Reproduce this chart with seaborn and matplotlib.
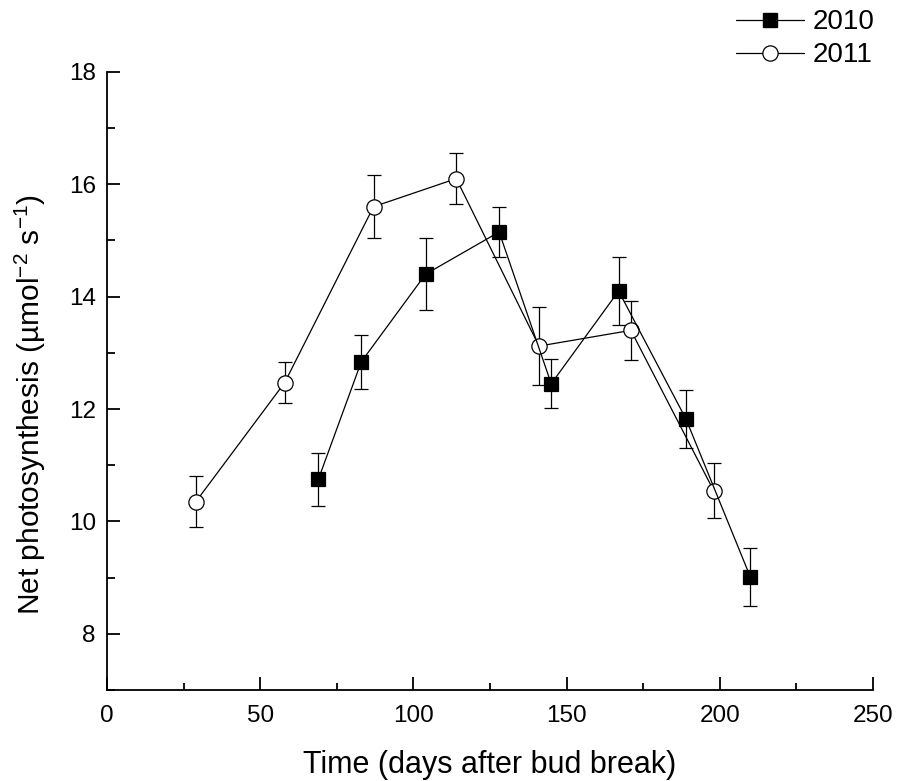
import matplotlib
matplotlib.use("Agg")
import matplotlib.pyplot as plt
import seaborn as sns
import pandas as pd
from matplotlib.lines import Line2D
from matplotlib.ticker import MultipleLocator

# Data
days_2010 = [69, 83, 104, 128, 145, 167, 189, 210]
pn_2010 = [10.75, 12.84, 14.40, 15.15, 12.45, 14.10, 11.82, 9.01]
err_2010 = [0.47, 0.48, 0.64, 0.44, 0.44, 0.61, 0.52, 0.51]

days_2011 = [29, 58, 87, 114, 141, 171, 198]
pn_2011 = [10.35, 12.47, 15.60, 16.10, 13.12, 13.40, 10.55]
err_2011 = [0.45, 0.37, 0.56, 0.46, 0.70, 0.53, 0.49]

df10 = pd.DataFrame({"day": days_2010, "pn": pn_2010, "err": err_2010})
df11 = pd.DataFrame({"day": days_2011, "pn": pn_2011, "err": err_2011})

sns.set_theme(style="ticks")
plt.rcParams["font.family"] = ["Liberation Sans", "DejaVu Sans"]
plt.rcParams["mathtext.default"] = "regular"
plt.rcParams["text.color"] = "black"
plt.rcParams["axes.labelcolor"] = "black"

fig = plt.figure(figsize=(8.99, 7.81), dpi=100)
ax = fig.add_axes([0.119, 0.1165, 0.852, 0.7915])

for d in (df10, df11):
    ax.errorbar(d["day"], d["pn"], yerr=d["err"], fmt="none", ecolor="black",
                elinewidth=0.9, capsize=4.8, capthick=0.9, zorder=2)

sns.lineplot(data=df11, x="day", y="pn", ax=ax, color="black", linewidth=0.9,
             marker="o", markersize=11, markerfacecolor="white",
             markeredgecolor="black", markeredgewidth=0.9, sort=False, zorder=3)
sns.lineplot(data=df10, x="day", y="pn", ax=ax, color="black", linewidth=0.9,
             marker="s", markersize=9.6, markerfacecolor="black",
             markeredgecolor="black", markeredgewidth=0.9, sort=False, zorder=4)

ax.set_xlim(0, 250)
ax.set_ylim(7, 18)
ax.xaxis.set_major_locator(MultipleLocator(50))
ax.xaxis.set_minor_locator(MultipleLocator(25))
ax.set_yticks([8, 10, 12, 14, 16, 18])
ax.yaxis.set_minor_locator(MultipleLocator(1))

for s in ["top", "right"]:
    ax.spines[s].set_visible(False)
for s in ["left", "bottom"]:
    ax.spines[s].set_linewidth(1.3)
    ax.spines[s].set_color("black")

ax.tick_params(which="major", direction="in", length=9.7, width=1.3,
               labelsize=17.5, colors="black")
ax.tick_params(which="minor", direction="in", length=5.4, width=1.3, colors="black")
ax.tick_params(axis="x", which="major", pad=10.5)
ax.tick_params(axis="y", which="major", pad=8)

ax.set_xlabel("Time (days after bud break)", fontsize=22)
ax.set_ylabel("Net photosynthesis (\u00b5mol$^{-2}$ s$^{-1}$)", fontsize=21.5)
ax.xaxis.set_label_coords(0.5, -0.097)
ax.yaxis.set_label_coords(-0.077, 0.461)

h10 = Line2D([], [], color="black", linewidth=0.9, marker="s", markersize=9.6,
             markerfacecolor="black", markeredgecolor="black")
h11 = Line2D([], [], color="black", linewidth=0.9, marker="o", markersize=11,
             markerfacecolor="white", markeredgecolor="black", markeredgewidth=0.9)
fig.legend([h10, h11], ["2010", "2011"], loc="upper right",
           bbox_to_anchor=(1.0, 1.02), frameon=False, fontsize=20,
           handlelength=2.45, handletextpad=0.3, labelspacing=0.25)

fig.savefig("out.png", dpi=100)
